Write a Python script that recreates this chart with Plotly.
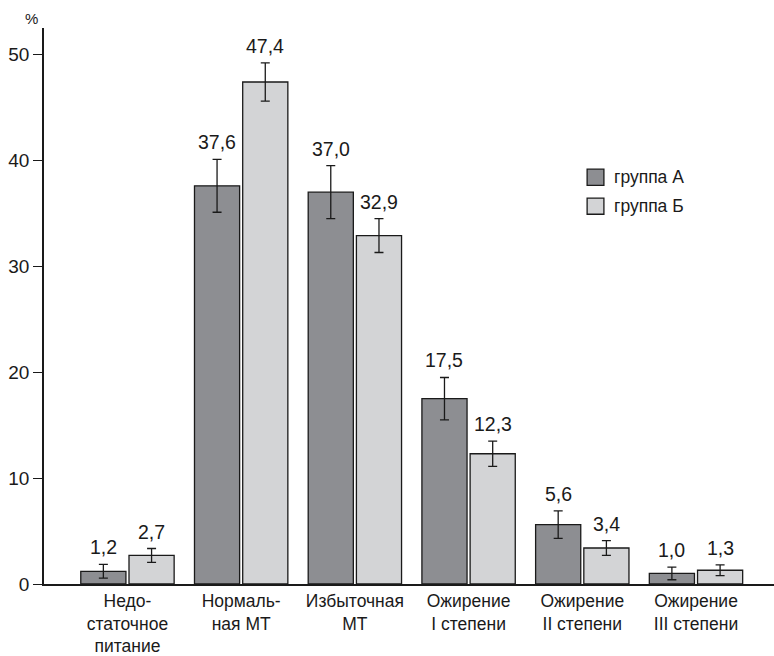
import plotly.graph_objects as go

categories = ["Недо-<br>статочное<br>питание", "Нормаль-<br>ная МТ", "Избыточная<br>МТ",
              "Ожирение<br>I степени", "Ожирение<br>II степени", "Ожирение<br>III степени"]
group_a = [1.2, 37.6, 37.0, 17.5, 5.6, 1.0]
group_b = [2.7, 47.4, 32.9, 12.3, 3.4, 1.3]
err_a = [0.65, 2.5, 2.5, 2.0, 1.3, 0.6]
err_b = [0.65, 1.8, 1.6, 1.2, 0.7, 0.5]
series_names = ["группа А", "группа Б"]
y_ticks = [0, 10, 20, 30, 40, 50]

FONT = "Liberation Sans, Arial, sans-serif"
INK = "#1a1a1a"
COL_A = "#8d8e92"
COL_B = "#d3d4d6"
OFF = 0.212
W = 0.397

idx = list(range(len(categories)))

fig = go.Figure()
for name, vals, errs, col, sign in [(series_names[0], group_a, err_a, COL_A, -1),
                                    (series_names[1], group_b, err_b, COL_B, 1)]:
    xs = [i + sign * OFF for i in idx]
    fig.add_trace(go.Bar(
        x=xs, y=vals, width=W, name=name, showlegend=False,
        marker=dict(color=col, line=dict(color=INK, width=1.3)),
        error_y=dict(type="data", array=errs, visible=True,
                     color=INK, thickness=1.3, width=4.5),
    ))
    for x, v, e in zip(xs, vals, errs):
        fig.add_annotation(x=x, y=v + e, text=f"{v:.1f}".replace(".", ","),
                           showarrow=False, yanchor="bottom", yshift=4,
                           font=dict(family=FONT, size=19.5, color=INK))

# legend: swatches and labels placed in paper coordinates
legend_rows = [(series_names[0], COL_A, 0.746, 0.717),
               (series_names[1], COL_B, 0.694, 0.665)]
for label, col, y1, y0 in legend_rows:
    fig.add_shape(type="rect", xref="paper", yref="paper",
                  x0=0.744, x1=0.767, y0=y0, y1=y1,
                  fillcolor=col, line=dict(color=INK, width=1.3))
    fig.add_annotation(xref="paper", yref="paper", x=0.778, y=(y0 + y1) / 2,
                       text=label, showarrow=False, xanchor="left", yanchor="middle",
                       font=dict(family=FONT, size=17.5, color=INK))

fig.add_annotation(x=0, y=1, xref="paper", yref="paper", xshift=-13, yshift=-1,
                   text="%", showarrow=False, xanchor="center", yanchor="bottom",
                   font=dict(family=FONT, size=15, color=INK))

fig.update_layout(
    width=774, height=656,
    margin=dict(l=44, r=0, t=28, b=72),
    plot_bgcolor="white", paper_bgcolor="white",
    showlegend=False,
    font=dict(family=FONT, color=INK),
)
fig.update_xaxes(
    range=[-0.734, 5.686], tickvals=idx, ticktext=categories,
    showline=True, linecolor=INK, linewidth=1.5,
    showgrid=False, zeroline=False, ticks="", automargin=False,
    tickfont=dict(family=FONT, size=17.5, color=INK),
)
fig.update_yaxes(
    range=[0, 52.5], tickvals=y_ticks,
    showline=True, linecolor=INK, linewidth=1.5,
    showgrid=False, zeroline=False, ticks="outside", ticklen=9,
    tickcolor=INK, tickwidth=1.3, automargin=False,
    tickfont=dict(family=FONT, size=19, color=INK),
)

fig.write_html("out.html")
